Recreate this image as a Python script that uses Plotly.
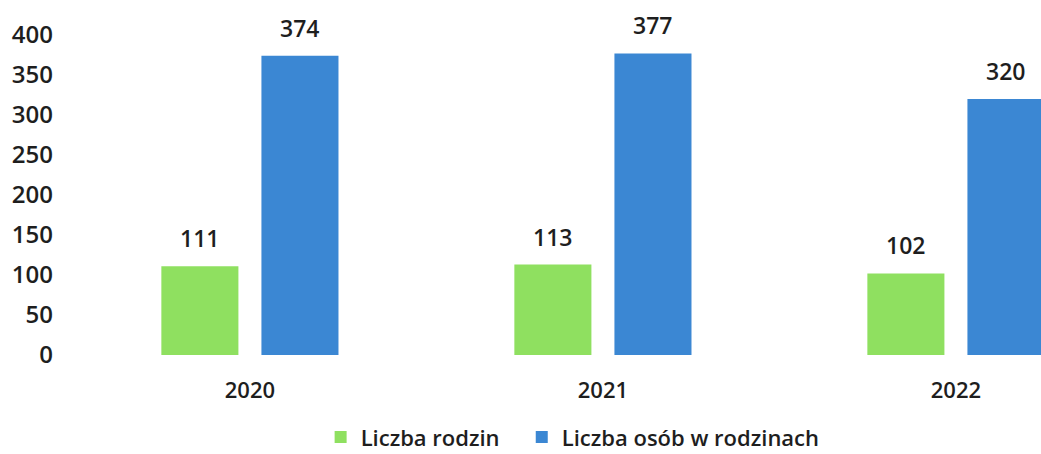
import plotly.graph_objects as go

years = ["2020", "2021", "2022"]
rodziny = [111, 113, 102]
osoby = [374, 377, 320]

green = "#8fe060"
blue = "#3b87d3"
txt = "#1e1e1e"
font_name = "Open Sans"

fig = go.Figure()

fig.add_trace(go.Bar(
    x=years,
    y=rodziny,
    name="Liczba rodzin\u00a0\u00a0\u00a0",
    marker=dict(color=green, line=dict(width=0)),
))

fig.add_trace(go.Bar(
    x=years,
    y=osoby,
    name="Liczba osób w rodzinach",
    marker=dict(color=blue, line=dict(width=0)),
))

# value labels sit well above the bars in the original, so use annotations
for vals, shift in [(rodziny, -50), (osoby, 50)]:
    for i, v in enumerate(vals):
        fig.add_annotation(
            x=i, y=v, text=str(v),
            xref="x", yref="y",
            xshift=shift, yshift=10,
            yanchor="bottom", showarrow=False,
            font=dict(size=23, color=txt, family=font_name, weight=600),
        )

fig.update_xaxes(
    type="category",
    range=[-0.538, 2.241],
    automargin=False,
    showline=False,
    showgrid=False,
    ticks="",
    ticklabelstandoff=20,
    tickfont=dict(size=22, color=txt, family=font_name, weight=600),
)

fig.update_yaxes(
    range=[0, 400],
    dtick=50,
    automargin=False,
    showline=False,
    showgrid=False,
    zeroline=False,
    ticks="",
    ticklabelstandoff=6,
    tickfont=dict(size=24, color=txt, family=font_name, weight=600),
)

fig.update_layout(
    width=1041,
    height=454,
    barmode="group",
    bargap=0.433,
    bargroupgap=0.23,
    plot_bgcolor="white",
    paper_bgcolor="white",
    margin=dict(l=60, r=0, t=35, b=99),
    showlegend=True,
    legend=dict(
        orientation="h",
        xref="container",
        yref="container",
        x=0.308,
        xanchor="left",
        y=0.037,
        yanchor="middle",
        font=dict(size=22, color=txt, family=font_name, weight=600),
        itemwidth=30,
    ),
)

# drop the default page margin so the chart fills the window edge to edge
fig.write_html(
    "out.html",
    config={"displayModeBar": False},
    post_script="document.body.style.margin='0';",
)
